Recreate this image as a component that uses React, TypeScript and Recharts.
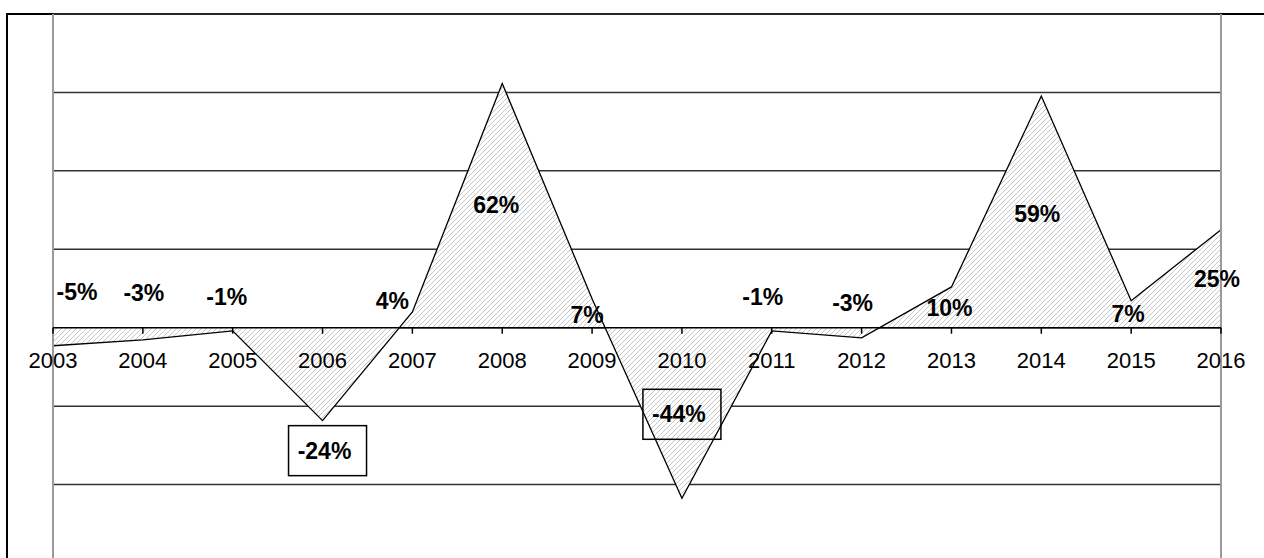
import React from "react";
import {
  ComposedChart,
  Area,
  Line,
  XAxis,
  YAxis,
  CartesianGrid,
  ReferenceLine,
  LabelList,
} from "recharts";

const years = ["2003", "2004", "2005", "2006", "2007", "2008", "2009", "2010", "2011", "2012", "2013", "2014", "2015", "2016"];
const changePct = [-4.6, -3.1, -0.8, -23.7, 4.0, 62.3, 7.4, -43.5, -0.8, -2.6, 10.4, 59.1, 6.9, 25.0];
const pctLabels = ["-5%", "-3%", "-1%", "-24%", "4%", "62%", "7%", "-44%", "-1%", "-3%", "10%", "59%", "7%", "25%"];
const yTicks = [-60, -40, -20, 0, 20, 40, 60, 80];

// hand placed labels, offset from their point (like the original sheet)
const LABEL_OFFSETS: [number, number][] = [
  [24, -54], [1, -47], [-6, -34], [2, 30], [-20, -11], [-6, 122], [-5, 16],
  [-3, -84], [-9, -34], [-9, -35], [-2, 21], [-4, 118], [-3, 13], [-4, 49],
];
const BOXED_LABELS = new Set([3, 7]);

const FONT = "Arial, 'Liberation Sans', sans-serif";

const chartData = years.map((year, i) => ({
  year,
  change: changePct[i],
  axis: 0,
}));

function PctLabel(props: any) {
  const { index } = props;
  const px = props.x ?? props.viewBox?.x;
  const py = props.y ?? props.viewBox?.y;
  if (px == null || py == null) return null;
  const [dx, dy] = LABEL_OFFSETS[index];
  const cx = px + dx;
  const cy = py + dy;
  return (
    <g>
      {BOXED_LABELS.has(index) && (
        <rect x={cx - 36} y={cy - 25} width={78} height={50} fill="none" stroke="#000" strokeWidth={1.5} />
      )}
      <text x={cx} y={cy + 8} textAnchor="middle" fontFamily={FONT} fontSize={23} fontWeight="bold" fill="#000">
        {pctLabels[index]}
      </text>
    </g>
  );
}

function YearLabel(props: any) {
  const { index } = props;
  const px = props.x ?? props.viewBox?.x;
  const py = props.y ?? props.viewBox?.y;
  if (px == null || py == null) return null;
  return (
    <text x={px} y={py + 40} textAnchor="middle" fontFamily={FONT} fontSize={22} fill="#000">
      {years[index]}
    </text>
  );
}

function AxisTick(props: any) {
  const { cx, cy, index } = props;
  if (cx == null || cy == null) return <g key={index} />;
  return <line key={index} x1={cx} y1={cy} x2={cx} y2={cy + 6} stroke="#000" strokeWidth={1.5} />;
}

export default function App() {
  return (
    <div style={{ position: "absolute", left: 0, top: 0, width: 1264, height: 558, overflow: "hidden", background: "#fff" }}>
      <div
        style={{
          position: "absolute",
          left: 6,
          top: 13,
          width: 1300,
          height: 600,
          borderLeft: "2px solid #000",
          borderTop: "2px solid #000",
        }}
      />
      <div style={{ position: "absolute", left: 0, top: 0 }}>
        <ComposedChart width={1264} height={600} data={chartData} margin={{ top: 14, right: 43, bottom: 37, left: 53 }}>
          <defs>
            <pattern id="hatch" patternUnits="userSpaceOnUse" width={5} height={5}>
              <rect width={5} height={5} fill="#fff" />
              <path d="M0,5 L5,0 M-1,1 L1,-1 M4,6 L6,4" stroke="#c6c6c6" strokeWidth={1} />
            </pattern>
          </defs>
          <CartesianGrid vertical={false} stroke="#333" strokeWidth={1.5} />
          <XAxis dataKey="year" hide />
          <YAxis hide domain={[-60, 80]} ticks={yTicks} allowDataOverflow />
          <ReferenceLine x="2003" stroke="#9a9a9a" strokeWidth={2} />
          <ReferenceLine x="2016" stroke="#9a9a9a" strokeWidth={2} />
          <Area
            type="linear"
            dataKey="change"
            baseValue={0}
            stroke="#000"
            strokeWidth={1.3}
            fill="url(#hatch)"
            fillOpacity={1}
            dot={false}
            activeDot={false}
            isAnimationActive={false}
          >
            <LabelList dataKey="change" content={PctLabel} />
          </Area>
          <Line
            type="linear"
            dataKey="axis"
            stroke="#000"
            strokeWidth={1.5}
            dot={AxisTick}
            activeDot={false}
            isAnimationActive={false}
          >
            <LabelList dataKey="axis" content={YearLabel} />
          </Line>
        </ComposedChart>
      </div>
    </div>
  );
}
